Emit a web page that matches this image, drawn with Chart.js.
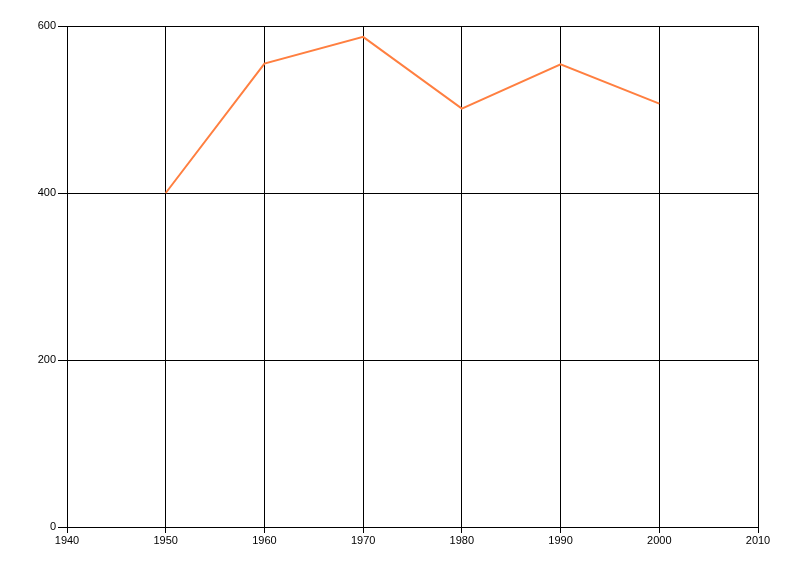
<!DOCTYPE html>
<html>
<head>
<meta charset="utf-8">
<script src="https://cdn.jsdelivr.net/npm/chart.js@4"></script>
<style>
  html, body { margin: 0; padding: 0; background: #fff; }
  #wrap { width: 800px; height: 576px; }
</style>
</head>
<body>
<div id="wrap"><canvas id="chart"></canvas></div>
<script>
const years = [1950, 1960, 1970, 1980, 1990, 2000];
const values = [400, 555, 587, 501, 554, 507];
const xTicks = [1940, 1950, 1960, 1970, 1980, 1990, 2000, 2010];
const yTicks = [0, 200, 400, 600];

const points = years.map((y, i) => ({ x: y, y: values[i] }));

new Chart(document.getElementById('chart'), {
    type: 'line',
    data: {
        datasets: [{
            data: points,
            borderColor: 'rgb(255,127,64)',
            borderWidth: 2,
            pointRadius: 0,
            tension: 0,
            fill: false
        }]
    },
    options: {
        responsive: true,
        maintainAspectRatio: false,
        animation: false,
        layout: {
            padding: { top: 26, right: 42, left: 0, bottom: 0 }
        },
        plugins: {
            legend: { display: false },
            tooltip: { enabled: false }
        },
        scales: {
            x: {
                type: 'linear',
                min: xTicks[0],
                max: xTicks[xTicks.length - 1],
                afterBuildTicks: scale => { scale.ticks = xTicks.map(v => ({ value: v })); },
                afterFit: scale => { scale.height = 49; },
                grid: { color: '#000', lineWidth: 1, tickLength: 6 },
                border: { color: '#000', width: 1 },
                ticks: {
                    color: '#000',
                    padding: 1,
                    maxRotation: 0,
                    font: { family: 'Liberation Sans', size: 11 },
                    callback: v => String(v)
                }
            },
            y: {
                min: yTicks[0],
                max: yTicks[yTicks.length - 1],
                afterBuildTicks: scale => { scale.ticks = yTicks.map(v => ({ value: v })); },
                afterFit: scale => { scale.width = 67; },
                grid: { color: '#000', lineWidth: 1, tickLength: 9 },
                border: { color: '#000', width: 1 },
                ticks: {
                    color: '#000',
                    padding: 2,
                    font: { family: 'Liberation Sans', size: 11 },
                    callback: v => String(v)
                }
            }
        }
    }
});
</script>
</body>
</html>
